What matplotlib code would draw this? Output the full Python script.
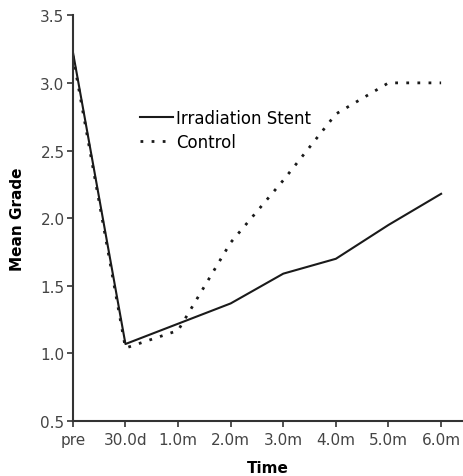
import numpy as np
import matplotlib
matplotlib.use("Agg")
import matplotlib.pyplot as plt

plt.rcParams['font.family'] = ['DejaVu Sans']

# data
time_labels = ['pre', '30.0d', '1.0m', '2.0m', '3.0m', '4.0m', '5.0m', '6.0m']
irradiation = [3.23, 1.07, 1.22, 1.37, 1.59, 1.70, 1.95, 2.18]
control = [3.20, 1.04, 1.17, 1.82, 2.28, 2.77, 3.00, 3.00]

x = np.arange(len(time_labels))

fig = plt.figure(figsize=(4.64, 4.77), dpi=100)
ax = fig.add_axes([0.157, 0.115, 0.839, 0.851])

ax.plot(x, irradiation, color='#1a1a1a', lw=1.5, label='Irradiation Stent')
ax.plot(x, control, color='#1a1a1a', lw=2.0, ls=(0, (1, 3)), label='Control')

ax.set_xlim(0, 7.4)
ax.set_ylim(0.5, 3.5)
ax.set_xticks(x)
ax.set_xticklabels(time_labels)
ax.set_yticks([0.5, 1.0, 1.5, 2.0, 2.5, 3.0, 3.5])
ax.set_yticklabels(['0.5', '1.0', '1.5', '2.0', '2.5', '3.0', '3.5'])

for s in ['top', 'right']:
    ax.spines[s].set_visible(False)
for s in ['left', 'bottom']:
    ax.spines[s].set_color('#333333')
    ax.spines[s].set_linewidth(1.5)

ax.tick_params(axis='both', direction='out', length=4, width=1.2,
               colors='#333333', labelsize=11, labelcolor='#444444')
ax.tick_params(axis='x', pad=4)
ax.tick_params(axis='y', pad=2)

ax.set_xlabel('Time', fontsize=11, fontweight='bold', labelpad=9)
ax.set_ylabel('Mean Grade', fontsize=11, fontweight='bold', labelpad=11)

ax.legend(loc='upper left', bbox_to_anchor=(0.172, 0.770), frameon=False,
          fontsize=12, handlelength=2.0, handletextpad=0.2, labelspacing=0.38,
          borderpad=0, borderaxespad=0)

fig.savefig('out.png', dpi=100)
